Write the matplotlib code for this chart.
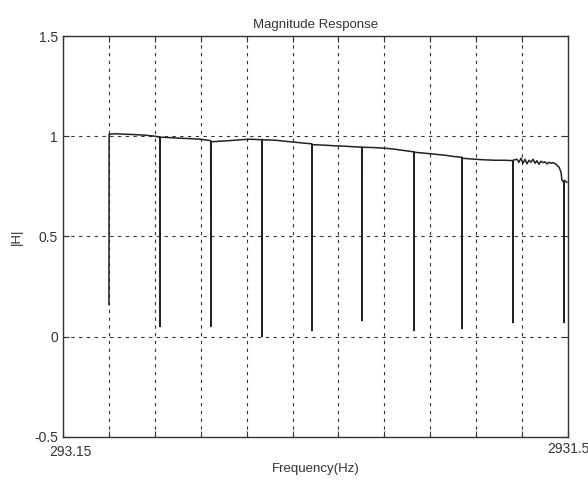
import matplotlib.pyplot as plt
import matplotlib.transforms as mtransforms
import numpy as np

plt.rcParams["font.family"] = ["Liberation Sans", "DejaVu Sans"]

# magnitude response (Hz, |H|)
freq_hz = [533.5, 534.5, 565, 617, 669, 722, 774, 799, 800, 801,
           852, 904, 957, 1009, 1065, 1066, 1067, 1113, 1166, 1218,
           1270, 1312, 1332, 1333, 1334, 1401, 1453, 1505, 1557, 1593,
           1594, 1595, 1662, 1714, 1766, 1818, 1854, 1855, 1856, 1923,
           1975, 2027, 2080, 2126, 2127, 2128, 2184, 2237, 2289, 2341,
           2377, 2378, 2379, 2446, 2498, 2550, 2602, 2643, 2644, 2645,
           2665, 2675, 2686, 2696, 2707, 2717, 2728, 2738, 2749, 2759,
           2769, 2780, 2790, 2801, 2811, 2822, 2832, 2843, 2853, 2869,
           2885, 2895, 2900, 2910, 2911, 2912, 2926]
mag = [0.16, 1.01, 1.012, 1.01, 1.008, 1.005, 1.0, 0.995, 0.05, 0.995,
       0.993, 0.99, 0.988, 0.985, 0.978, 0.05, 0.972, 0.975, 0.978, 0.982,
       0.985, 0.983, 0.983, 0.0, 0.982, 0.98, 0.975, 0.97, 0.965, 0.962,
       0.03, 0.958, 0.955, 0.952, 0.95, 0.947, 0.945, 0.08, 0.945, 0.943,
       0.94, 0.935, 0.928, 0.922, 0.03, 0.92, 0.915, 0.91, 0.905, 0.898,
       0.895, 0.04, 0.89, 0.885, 0.882, 0.88, 0.88, 0.878, 0.07, 0.88,
       0.885, 0.87, 0.89, 0.865, 0.885, 0.862, 0.88, 0.87, 0.885, 0.865,
       0.878, 0.86, 0.875, 0.868, 0.872, 0.862, 0.87, 0.865, 0.868, 0.86,
       0.845, 0.82, 0.78, 0.77, 0.07, 0.78, 0.77]

f_lo, f_hi = 293.15, 2931.5
y_ticks = [-0.5, 0, 0.5, 1, 1.5]
y_labels = ["-0.5", "0", "0.5", "1", "1.5"]

fig = plt.figure(figsize=(5.88, 4.8), dpi=100)
ax = fig.add_axes([0.107, 0.090, 0.859, 0.835])

ax.plot(freq_hz, mag, color="#222222", lw=1.1)

xt = np.linspace(f_lo, f_hi, 12)
ax.set_xticks(xt)
ax.set_xticklabels(["293.15"] + [""] * 10 + ["2931.5"])
ax.set_yticks(y_ticks)
ax.set_yticklabels(y_labels)
ax.set_xlim(f_lo, f_hi)
ax.set_ylim(-0.5, 1.5)

ax.grid(True, color="#333333", linestyle=(0, (3, 4)), lw=0.8)
ax.tick_params(direction="in", top=True, right=True, length=4,
               labelsize=10, colors="#333333", labelcolor="#333333")
for s in ax.spines.values():
    s.set_color("#333333")
    s.set_linewidth(1.0)

# push the left frequency label right and down so it clears "-0.5"
lbl = ax.get_xticklabels()[0]
lbl.set_transform(lbl.get_transform() +
                  mtransforms.ScaledTranslation(8 / 100, -3 / 100, fig.dpi_scale_trans))

ax.set_title("Magnitude Response", fontsize=9.5, color="#333333", pad=6)
ax.set_xlabel("Frequency(Hz)", fontsize=9.5, color="#333333")
ax.xaxis.set_label_coords(0.5, -0.065)
ax.set_ylabel("|H|", fontsize=9.5, color="#333333", labelpad=8)

fig.savefig("out.png", dpi=100)
